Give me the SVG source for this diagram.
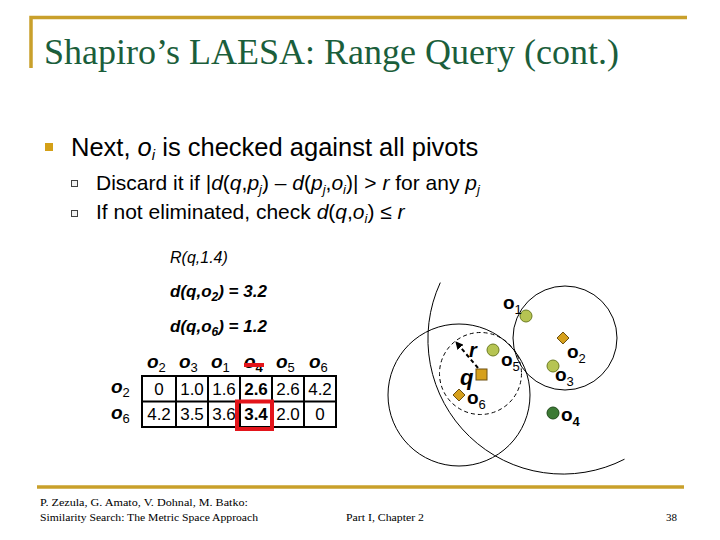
<svg xmlns="http://www.w3.org/2000/svg" width="720" height="540" viewBox="0 0 720 540">
<defs>
<style>
.ar{font-family:"Liberation Sans",Arial,sans-serif;fill:#000}
.it{font-style:italic}
.b{font-weight:bold}
.ser{font-family:"Liberation Serif","Times New Roman",serif}
.gold{stroke:#C9A02B;stroke-width:3.5;fill:none}
.circ{fill:none;stroke:#000;stroke-width:1}
.lg{fill:#B6C452;stroke:#6E7D22;stroke-width:1}
.dg{fill:#3C7A34;stroke:#1F4A1A;stroke-width:1}
.or{fill:#D6A01C;stroke:#6E5010;stroke-width:1}
.grid{stroke:#000;stroke-width:2;fill:none}
</style>
<marker id="ah" markerWidth="8" markerHeight="8" refX="7" refY="4" orient="auto" markerUnits="userSpaceOnUse">
<path d="M0,0 L8,4 L0,8 z" fill="#000"/>
</marker>
</defs>
<rect width="720" height="540" fill="#fff"/>

<g id="frame">
<path class="gold" d="M31,68 V17.5 H687"/>
<line class="gold" x1="37" y1="487" x2="684" y2="487"/>
</g>

<g id="title">
<text class="ser" x="44" y="64" font-size="36" fill="#1B5E3B">Shapiro’s LAESA: Range Query (cont.)</text>
</g>

<g id="bullets">
<rect x="45" y="143" width="8" height="8" fill="#D4A017"/>
<text class="ar" x="71" y="156" font-size="25.5">Next, <tspan class="it">o</tspan><tspan class="it" font-size="15" dy="4">i</tspan><tspan dy="-4"> is checked against all pivots</tspan></text>
<rect x="71.5" y="180.5" width="6" height="6" fill="#F2F2F2" stroke="#404040" stroke-width="1"/>
<text class="ar" x="96" y="190" font-size="21">Discard it if |<tspan class="it">d</tspan>(<tspan class="it">q</tspan>,<tspan class="it">p</tspan><tspan class="it" font-size="13" dy="4">j</tspan><tspan dy="-4">) – </tspan><tspan class="it">d</tspan>(<tspan class="it">p</tspan><tspan class="it" font-size="13" dy="4">j</tspan><tspan dy="-4">,</tspan><tspan class="it">o</tspan><tspan class="it" font-size="13" dy="4">i</tspan><tspan dy="-4">)| &gt; </tspan><tspan class="it">r</tspan> for any <tspan class="it">p</tspan><tspan class="it" font-size="13" dy="4">j</tspan></text>
<rect x="71.5" y="210.5" width="6" height="6" fill="#F2F2F2" stroke="#404040" stroke-width="1"/>
<text class="ar" x="96" y="219" font-size="21">If not eliminated, check <tspan class="it">d</tspan>(<tspan class="it">q</tspan>,<tspan class="it">o</tspan><tspan class="it" font-size="13" dy="4">i</tspan><tspan dy="-4">) ≤ </tspan><tspan class="it">r</tspan></text>
</g>

<g id="query">
<text class="ar it" x="170" y="263" font-size="16">R(q,1.4)</text>
<text class="ar it b" x="170" y="297" font-size="17">d(q,o<tspan font-size="12" dy="4">2</tspan><tspan dy="-4">) = 3.2</tspan></text>
<text class="ar it b" x="170" y="332" font-size="17">d(q,o<tspan font-size="12" dy="4">6</tspan><tspan dy="-4">) = 1.2</tspan></text>
</g>

<g id="table">
<g class="ar" font-size="19">
<text x="147" y="368"><tspan class="it b">o</tspan><tspan font-size="13" dy="4">2</tspan></text>
<text x="179" y="368"><tspan class="it b">o</tspan><tspan font-size="13" dy="4">3</tspan></text>
<text x="211" y="368"><tspan class="it b">o</tspan><tspan font-size="13" dy="4">1</tspan></text>
<text x="244" y="368"><tspan class="it b">o</tspan><tspan class="b" font-size="13" dy="4">4</tspan></text>
<text x="276" y="368"><tspan class="it b">o</tspan><tspan font-size="13" dy="4">5</tspan></text>
<text x="309" y="368"><tspan class="it b">o</tspan><tspan font-size="13" dy="4">6</tspan></text>
<text x="111" y="393"><tspan class="it b">o</tspan><tspan font-size="13" dy="4">2</tspan></text>
<text x="111" y="419"><tspan class="it b">o</tspan><tspan font-size="13" dy="4">6</tspan></text>
</g>
<rect class="grid" x="142" y="376" width="194" height="51"/>
<path class="grid" d="M142,401.5 H336 M176,376 V427 M208,376 V427 M240,376 V427 M272,376 V427 M304,376 V427"/>
<g class="ar" font-size="17" text-anchor="middle">
<text x="159" y="395">0</text>
<text x="192" y="395">1.0</text>
<text x="224" y="395">1.6</text>
<text x="256" y="395" class="b">2.6</text>
<text x="288" y="395">2.6</text>
<text x="320" y="395">4.2</text>
<text x="159" y="420">4.2</text>
<text x="192" y="420">3.5</text>
<text x="224" y="420">3.6</text>
<text x="256" y="420" class="b">3.4</text>
<text x="288" y="420">2.0</text>
<text x="320" y="420">0</text>
</g>
<line x1="244" y1="365" x2="264" y2="365" stroke="#E3151B" stroke-width="4"/>
<rect x="237" y="401.5" width="35" height="27.5" fill="none" stroke="#E3151B" stroke-width="4"/>
</g>

<g id="connectors">
<path class="circ" d="M440.3,282.6 A135,135 0 0 0 624.5,459.2"/>
<circle class="circ" cx="565" cy="338" r="52"/>
<circle class="circ" cx="459" cy="395" r="71"/>
<circle class="circ" cx="480.5" cy="373.5" r="41" stroke-dasharray="4,3"/>
<line x1="478" y1="368" x2="456" y2="342" stroke="#000" stroke-width="2" stroke-dasharray="4,3" marker-end="url(#ah)"/>
</g>

<g id="o1"><circle class="lg" cx="526" cy="316" r="6"/>
<text class="ar" x="503" y="309" font-size="19"><tspan class="b">o</tspan><tspan font-size="13" dy="5">1</tspan></text></g>
<g id="o5"><circle class="lg" cx="493" cy="350" r="6"/>
<text class="ar" x="501" y="366" font-size="19"><tspan class="b">o</tspan><tspan font-size="13" dy="5">5</tspan></text></g>
<g id="o3"><circle class="lg" cx="553" cy="366" r="6"/>
<text class="ar" x="555" y="381" font-size="19"><tspan class="b">o</tspan><tspan font-size="13" dy="5">3</tspan></text></g>
<g id="o4"><circle class="dg" cx="553" cy="413" r="6"/>
<text class="ar b" x="561" y="421" font-size="19">o<tspan font-size="13" dy="5">4</tspan></text></g>
<g id="o2"><path class="or" d="M563,332 L569,338 L563,344 L557,338 z"/>
<text class="ar" x="567" y="358" font-size="19"><tspan class="b">o</tspan><tspan font-size="13" dy="5">2</tspan></text></g>
<g id="o6"><path class="or" d="M459,389 L465,395 L459,401 L453,395 z"/>
<text class="ar" x="467" y="404" font-size="19"><tspan class="b">o</tspan><tspan font-size="13" dy="5">6</tspan></text></g>
<g id="q"><rect class="or" x="476" y="369" width="11" height="11"/>
<text class="ar it b" x="460" y="385" font-size="22">q</text>
<text class="ar it b" x="469" y="357" font-size="20">r</text></g>

<g id="footer" class="ser" font-size="11">
<text x="40" y="506" textLength="208" lengthAdjust="spacingAndGlyphs">P. Zezula, G. Amato, V. Dohnal, M. Batko:</text>
<text x="40" y="521" textLength="218" lengthAdjust="spacingAndGlyphs">Similarity Search: The Metric Space Approach</text>
<text x="346" y="521" textLength="78" lengthAdjust="spacingAndGlyphs">Part I, Chapter 2</text>
<text x="666" y="521">38</text>
</g>
</svg>
